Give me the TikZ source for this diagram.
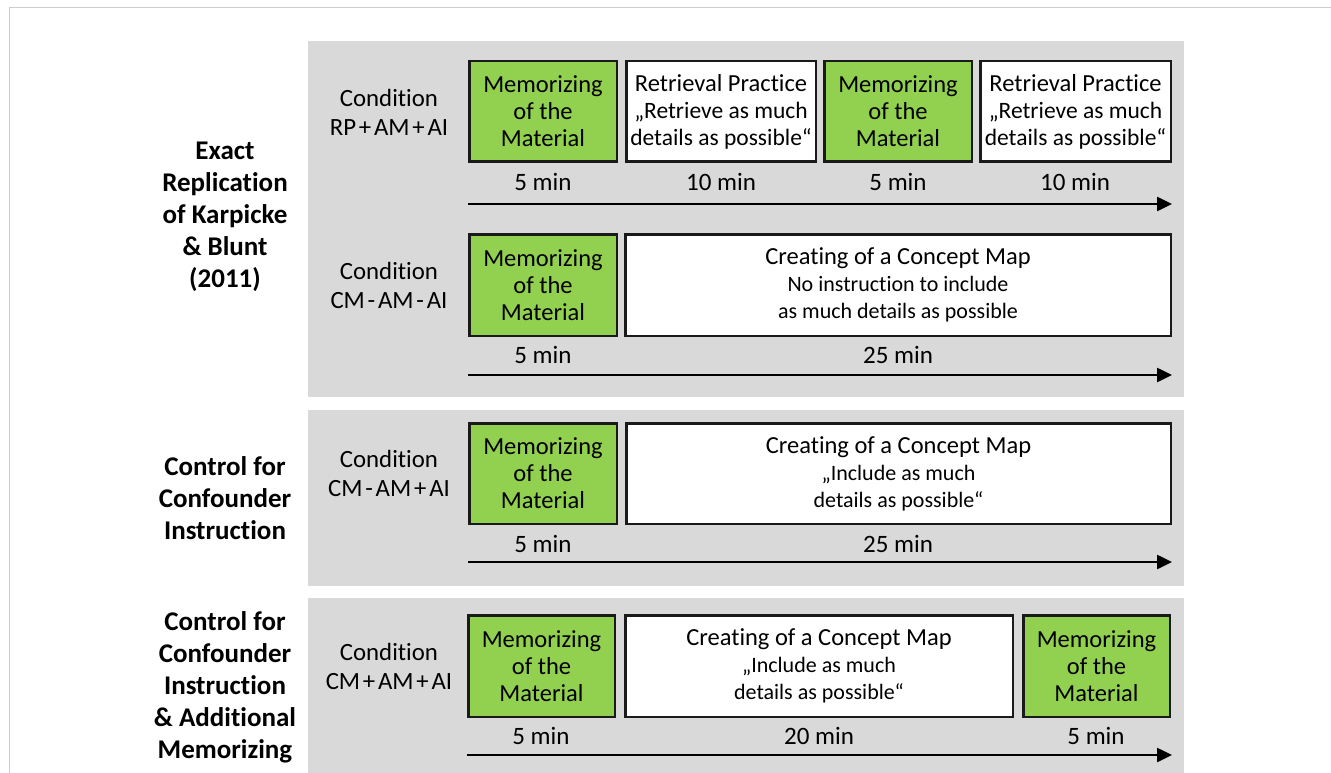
\documentclass[tikz,border=0pt]{standalone}
\usepackage{fontspec}
\setmainfont{Carlito}[Ligatures=NoCommon]
\usepackage{tikz}
\usetikzlibrary{arrows.meta,positioning}
\definecolor{panelgray}{HTML}{D9D9D9}
\definecolor{memogreen}{HTML}{92D050}
\definecolor{boxline}{HTML}{1A1A1A}
\definecolor{framegray}{HTML}{CDCDCD}
\newcommand{\condfont}{\fontsize{24.8}{29}\selectfont\spaceskip=2.8pt\relax}
\begin{document}
\begin{tikzpicture}[x=1pt,y=-1pt,
  panel/.style={fill=panelgray,draw=none},
  memo/.style={rectangle,draw=boxline,fill=memogreen,line width=2.5pt,inner sep=0pt,outer sep=0pt,
    align=center,font=\fontsize{24.5}{27}\selectfont},
  task/.style={rectangle,draw=boxline,fill=white,line width=2.5pt,inner sep=0pt,outer sep=0pt,
    align=center,font=\fontsize{24.5}{27}\selectfont},
  cond/.style={align=center,font=\condfont},
  dur/.style={font=\fontsize{25}{27}\selectfont},
  group/.style={align=center,font=\fontsize{27}{32}\selectfont\bfseries},
  timeline/.style={line width=2.5pt,-{Triangle[length=15pt,width=14pt]}},
]
  \useasboundingbox (0,0) rectangle (1331,773);
  % frame of the figure
  \draw[framegray,line width=1.5pt] (9.5,773) -- (9.5,7.5) -- (1331,7.5);

  % panels
  \fill[panel] (308,41) rectangle (1184,397);
  \fill[panel] (308,410) rectangle (1184,586);
  \fill[panel] (308,598) rectangle (1184,773);

  % group labels
  \node[group] (g1) at (225,216.5) {Exact\\Replication\\of Karpicke\\\& Blunt\\(2011)};
  \node[group] (g2) at (225,498) {Control for\\Confounder\\Instruction};
  \node[group] (g3) at (225,687.5) {Control for\\Confounder\\Instruction\\\& Additional\\Memorizing};

  % condition RP + AM + AI
  \node[cond] (c1) at (389,112) {Condition\\RP + AM + AI};
  \node[memo,minimum width=147.5pt,minimum height=100.5pt] (m11) at (543,111.5)
    {Memorizing\\of the\\Material};
  \node[task,minimum width=189.5pt,minimum height=100.5pt] (r11) at (721,111.5)
    {Retrieval Practice\\{\fontsize{23.5}{27}\selectfont „Retrieve as much}\\
     {\fontsize{23.5}{27}\selectfont details as possible“}};
  \node[memo,minimum width=147.5pt,minimum height=100.5pt] (m12) at (898,111.5)
    {Memorizing\\of the\\Material};
  \node[task,minimum width=190.5pt,minimum height=100.5pt] (r12) at (1075.5,111.5)
    {Retrieval Practice\\{\fontsize{23.5}{27}\selectfont „Retrieve as much}\\
     {\fontsize{23.5}{27}\selectfont details as possible“}};
  \node[dur] (d11) at (543,182) {5 min};
  \node[dur] (d12) at (721,182) {10 min};
  \node[dur] (d13) at (898,182) {5 min};
  \node[dur] (d14) at (1075,182) {10 min};
  \coordinate (t1s) at (468,204);
  \coordinate (t1e) at (1172,204);
  \draw[timeline] (t1s) -- (t1e);

  % condition CM - AM - AI
  \node[cond] (c2) at (389,285) {Condition\\CM - AM - AI};
  \node[memo,minimum width=147.5pt,minimum height=101.5pt] (m21) at (543,285)
    {Memorizing\\of the\\Material};
  \node[task,minimum width=545.5pt,minimum height=101.5pt] (k21) at (898,285)
    {Creating of a Concept Map\\{\fontsize{22}{27}\selectfont No instruction to include}\\
     {\fontsize{22}{27}\selectfont as much details as possible}};
  \node[dur] (d21) at (543,355) {5 min};
  \node[dur] (d22) at (898,355) {25 min};
  \coordinate (t2s) at (468,375);
  \coordinate (t2e) at (1172,375);
  \draw[timeline] (t2s) -- (t2e);

  % condition CM - AM + AI
  \node[cond] (c3) at (389,473.5) {Condition\\CM - AM + AI};
  \node[memo,minimum width=147.5pt,minimum height=100.5pt] (m31) at (543,473.5)
    {Memorizing\\of the\\Material};
  \node[task,minimum width=544.5pt,minimum height=100.5pt] (k31) at (898.5,473.5)
    {Creating of a Concept Map\\{\fontsize{22}{27}\selectfont „Include as much}\\
     {\fontsize{22}{27}\selectfont details as possible“}};
  \node[dur] (d31) at (543,544) {5 min};
  \node[dur] (d32) at (898,544) {25 min};
  \coordinate (t3s) at (468,562);
  \coordinate (t3e) at (1172,562);
  \draw[timeline] (t3s) -- (t3e);

  % condition CM + AM + AI
  \node[cond] (c4) at (389,666) {Condition\\CM + AM + AI};
  \node[memo,minimum width=146.5pt,minimum height=101.5pt] (m41) at (541.5,666)
    {Memorizing\\of the\\Material};
  \node[task,minimum width=387.5pt,minimum height=101.5pt] (k41) at (819,666)
    {Creating of a Concept Map\\{\fontsize{22}{27}\selectfont „Include as much}\\
     {\fontsize{22}{27}\selectfont details as possible“}};
  \node[memo,minimum width=146.5pt,minimum height=101.5pt] (m42) at (1096.5,666)
    {Memorizing\\of the\\Material};
  \node[dur] (d41) at (541,736) {5 min};
  \node[dur] (d42) at (819,736) {20 min};
  \node[dur] (d43) at (1096,736) {5 min};
  \coordinate (t4s) at (467,755);
  \coordinate (t4e) at (1172,755);
  \draw[timeline] (t4s) -- (t4e);
\end{tikzpicture}
\end{document}
